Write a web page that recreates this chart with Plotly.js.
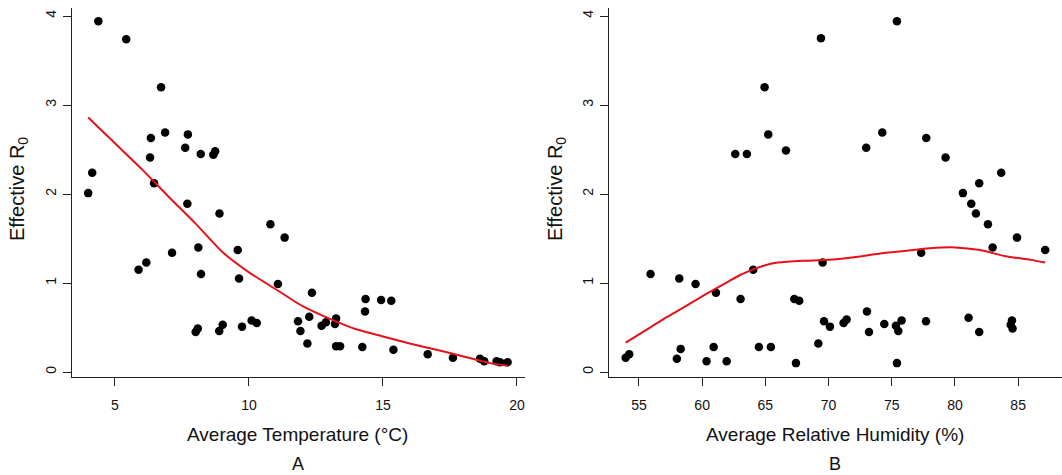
<!DOCTYPE html>
<html>
<head>
<meta charset="utf-8">
<script src="https://cdn.plot.ly/plotly-3.0.1.min.js"></script>
<style>html,body{margin:0;padding:0;background:#fff}#chart{width:1062px;height:475px}</style>
</head>
<body>
<div id="chart"></div>
<script>
// Panel A: average temperature vs effective R0
const tempX = [4.38,5.42,6.72,6.34,6.87,7.72,7.62,8.20,8.67,8.74,6.31,4.15,4.00,6.46,7.70,8.90,10.80,7.13,8.11,9.58,5.88,6.17,8.21,9.63,8.01,8.09,8.89,9.02,9.74,10.10,10.29,11.33,11.08,12.35,11.83,11.92,12.25,12.18,12.71,12.87,13.25,13.21,13.25,13.40,14.35,14.33,14.23,14.93,15.31,15.39,16.67,17.61,18.62,18.78,19.24,19.37,19.65];
const tempR0 = [3.94,3.74,3.20,2.63,2.69,2.67,2.52,2.45,2.44,2.48,2.41,2.24,2.01,2.12,1.89,1.78,1.66,1.34,1.40,1.37,1.15,1.23,1.10,1.05,0.45,0.49,0.46,0.53,0.51,0.58,0.55,1.51,0.99,0.89,0.57,0.46,0.62,0.32,0.52,0.56,0.60,0.54,0.29,0.29,0.82,0.68,0.28,0.81,0.80,0.25,0.20,0.16,0.15,0.12,0.12,0.11,0.11];
const tempFitX = [4.0,5.0,6.0,7.0,8.0,9.0,10.0,11.0,12.0,13.0,14.0,15.0,16.0,17.0,18.0,19.0,19.65];
const tempFitY = [2.86,2.57,2.28,1.97,1.67,1.35,1.12,0.93,0.74,0.60,0.48,0.40,0.32,0.25,0.175,0.10,0.07];

// Panel B: average relative humidity vs effective R0
const humX = [64.94,65.23,62.62,63.54,66.63,69.40,75.41,74.25,72.98,77.73,79.26,83.66,81.92,80.63,81.29,81.66,82.61,84.91,82.98,87.14,77.33,69.53,67.29,67.68,67.42,69.19,69.64,70.11,71.19,71.43,73.04,73.20,74.41,75.33,75.52,75.78,75.41,77.71,81.08,81.92,84.51,84.41,84.56,55.92,58.19,59.48,61.09,63.04,64.04,53.95,54.23,58.00,58.30,60.35,60.91,61.94,64.49,65.44];
const humR0 = [3.20,2.67,2.45,2.45,2.49,3.75,3.94,2.69,2.52,2.63,2.41,2.24,2.12,2.01,1.89,1.78,1.66,1.51,1.40,1.37,1.34,1.23,0.82,0.80,0.10,0.32,0.57,0.51,0.55,0.59,0.68,0.45,0.54,0.52,0.46,0.58,0.10,0.57,0.61,0.45,0.58,0.53,0.49,1.10,1.05,0.99,0.89,0.82,1.15,0.16,0.20,0.15,0.26,0.12,0.28,0.12,0.28,0.28];
const humFitX = [53.95,56,57,58,60,61,62,63,64,65,66,68,70,72,74,76,78,80,82,84,86,87.14];
const humFitY = [0.33,0.51,0.60,0.68,0.85,0.93,1.01,1.09,1.15,1.20,1.23,1.25,1.26,1.29,1.33,1.36,1.39,1.40,1.37,1.30,1.26,1.23];

const tempTicks = [5,10,15,20];
const humTicks = [55,60,65,70,75,80,85];
const r0Ticks = [0,1,2,3,4];

const W = 1062, H = 475;
const fontFam = '"Liberation Sans", Arial, sans-serif';

const marker = {color:'#000', size:8.5, symbol:'circle', line:{width:0}};
const fitLine = {color:'#e8101a', width:2};

const traces = [
  {x:tempX, y:tempR0, type:'scatter', mode:'markers', marker:marker, xaxis:'x', yaxis:'y'},
  {x:tempFitX, y:tempFitY, type:'scatter', mode:'lines', line:Object.assign({shape:'spline', smoothing:0.6}, fitLine), xaxis:'x', yaxis:'y'},
  {x:humX, y:humR0, type:'scatter', mode:'markers', marker:marker, xaxis:'x2', yaxis:'y2'},
  {x:humFitX, y:humFitY, type:'scatter', mode:'lines', line:Object.assign({shape:'spline', smoothing:0.6}, fitLine), xaxis:'x2', yaxis:'y2'}
];

const axisCommon = {
  showgrid:false, zeroline:false, showline:true, linecolor:'#222', linewidth:1,
  ticks:'outside', ticklen:8, tickcolor:'#222', tickwidth:1,
  tickfont:{family:fontFam, size:14, color:'#111'}, tickmode:'array', fixedrange:true
};
const yDomain = [(H-377)/H, (H-8)/H];

const layout = {
  width:W, height:H, showlegend:false,
  margin:{l:0, r:0, t:0, b:0, pad:0},
  paper_bgcolor:'#fff', plot_bgcolor:'#fff',
  font:{family:fontFam, color:'#111'},
  xaxis:Object.assign({}, axisCommon, {domain:[72/W, 525/W], range:[3.396, 20.30], tickvals:tempTicks, ticktext:tempTicks.map(String), anchor:'y', ticklabelstandoff:7}),
  yaxis:Object.assign({}, axisCommon, {domain:yDomain, range:[-0.056, 4.09], tickvals:r0Ticks, ticktext:r0Ticks.map(String), tickangle:-90, anchor:'x', ticklabelstandoff:1}),
  xaxis2:Object.assign({}, axisCommon, {domain:[609/W, 1], range:[52.63, 88.47], tickvals:humTicks, ticktext:humTicks.map(String), anchor:'y2', ticklabelstandoff:7}),
  yaxis2:Object.assign({}, axisCommon, {domain:yDomain, range:[-0.056, 4.09], tickvals:r0Ticks, ticktext:r0Ticks.map(String), tickangle:-90, anchor:'x2', ticklabelstandoff:1}),
  annotations:[
    {text:'Average Temperature (°C)', xref:'paper', yref:'paper', x:297/W, y:1-434/H, showarrow:false, xanchor:'center', yanchor:'middle', font:{family:fontFam, size:19, color:'#111'}},
    {text:'Average Relative Humidity (%)', xref:'paper', yref:'paper', x:835/W, y:1-434/H, showarrow:false, xanchor:'center', yanchor:'middle', font:{family:fontFam, size:19, color:'#111'}},
    {text:'A', xref:'paper', yref:'paper', x:298/W, y:1-464/H, showarrow:false, xanchor:'center', yanchor:'middle', font:{family:fontFam, size:18, color:'#111'}},
    {text:'B', xref:'paper', yref:'paper', x:835/W, y:1-464/H, showarrow:false, xanchor:'center', yanchor:'middle', font:{family:fontFam, size:18, color:'#111'}},
    {text:'Effective R<sub>0</sub>', xref:'paper', yref:'paper', x:18/W, y:1-189/H, showarrow:false, textangle:-90, xanchor:'center', yanchor:'middle', font:{family:fontFam, size:20, color:'#111'}},
    {text:'Effective R<sub>0</sub>', xref:'paper', yref:'paper', x:556/W, y:1-189/H, showarrow:false, textangle:-90, xanchor:'center', yanchor:'middle', font:{family:fontFam, size:20, color:'#111'}}
  ]
};

Plotly.newPlot('chart', traces, layout, {displayModeBar:false, staticPlot:true});
</script>
</body>
</html>
